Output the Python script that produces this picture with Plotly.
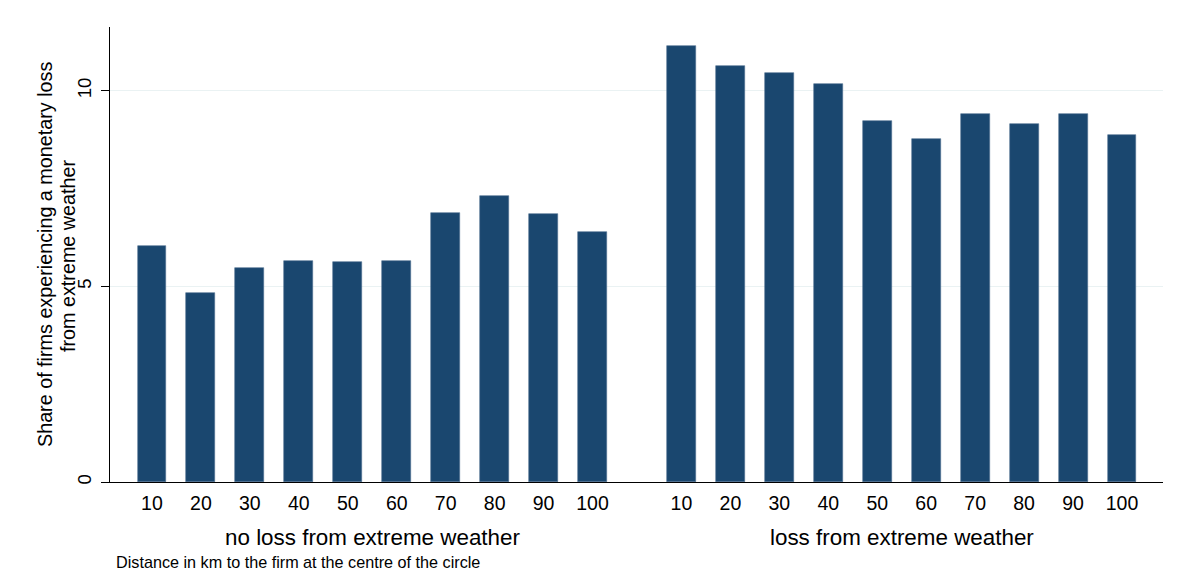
import plotly.graph_objects as go

distances = ["10", "20", "30", "40", "50", "60", "70", "80", "90", "100"]
groups = ["no loss from extreme weather", "loss from extreme weather"]
no_loss = [6.04, 4.84, 5.47, 5.64, 5.63, 5.66, 6.88, 7.31, 6.84, 6.40]
loss = [11.15, 10.64, 10.45, 10.18, 9.24, 8.77, 9.41, 9.15, 9.41, 8.86]
y_ticks = [0, 5, 10]
y_title = ["Share of firms experiencing a monetary loss", "from extreme weather"]

BAR = "#1a476f"
FONT = "Liberation Sans, Arial, sans-serif"
GAP = 1.816  # slot distance between groups

n = len(distances)
x_left = list(range(n))
x_right = [n - 1 + GAP + i for i in range(n)]

fig = go.Figure()
for xs, vals in ((x_left, no_loss), (x_right, loss)):
    fig.add_trace(go.Bar(
        x=xs, y=vals, width=0.59,
        marker=dict(color=BAR, line=dict(color="#4d6f8f", width=0.6)),
        showlegend=False, hoverinfo="y",
    ))

fig.update_layout(
    width=1169, height=566,
    margin=dict(l=102, r=14, t=19, b=92),
    paper_bgcolor="white", plot_bgcolor="white",
    font=dict(family=FONT, size=19, color="black"),
    bargap=0,
)
fig.update_xaxes(
    range=[-0.857, x_right[-1] + 0.837],
    tickmode="array", tickvals=x_left + x_right, ticktext=distances + distances,
    showline=True, linecolor="black", linewidth=1.3,
    showgrid=False, zeroline=False, ticks="",
    tickfont=dict(size=19.5), ticklabelstandoff=3,
)
fig.update_yaxes(
    range=[0, 11.63],
    tickmode="array", tickvals=y_ticks, ticktext=[str(v) for v in y_ticks],
    tickangle=-90,
    showline=True, linecolor="black", linewidth=1.3,
    ticks="outside", ticklen=8, tickcolor="black", tickwidth=1.2,
    showgrid=True, gridcolor="#eaf2f3", gridwidth=1.2,
    zeroline=False, tickfont=dict(size=18.5), ticklabelstandoff=2,
)

# y-axis title (two lines)
for xp, line in zip((-0.0617, -0.0399), y_title):
    fig.add_annotation(
        x=xp, y=0.4989, xref="paper", yref="paper",
        text=line, textangle=-90, showarrow=False,
        xanchor="center", yanchor="middle", font=dict(size=19.75),
    )

# group labels
for xs, name in ((x_left, groups[0]), (x_right, groups[1])):
    fig.add_annotation(
        x=(xs[0] + xs[-1]) / 2, y=-0.121, xref="x", yref="paper",
        text=name, showarrow=False, xanchor="center", yanchor="middle",
        font=dict(size=22.4),
    )

fig.add_annotation(
    x=0.0038, y=-0.176, xref="paper", yref="paper",
    text="Distance in km to the firm at the centre of the circle",
    showarrow=False, xanchor="left", yanchor="middle",
    font=dict(size=16.2),
)

fig.write_html("out.html")
